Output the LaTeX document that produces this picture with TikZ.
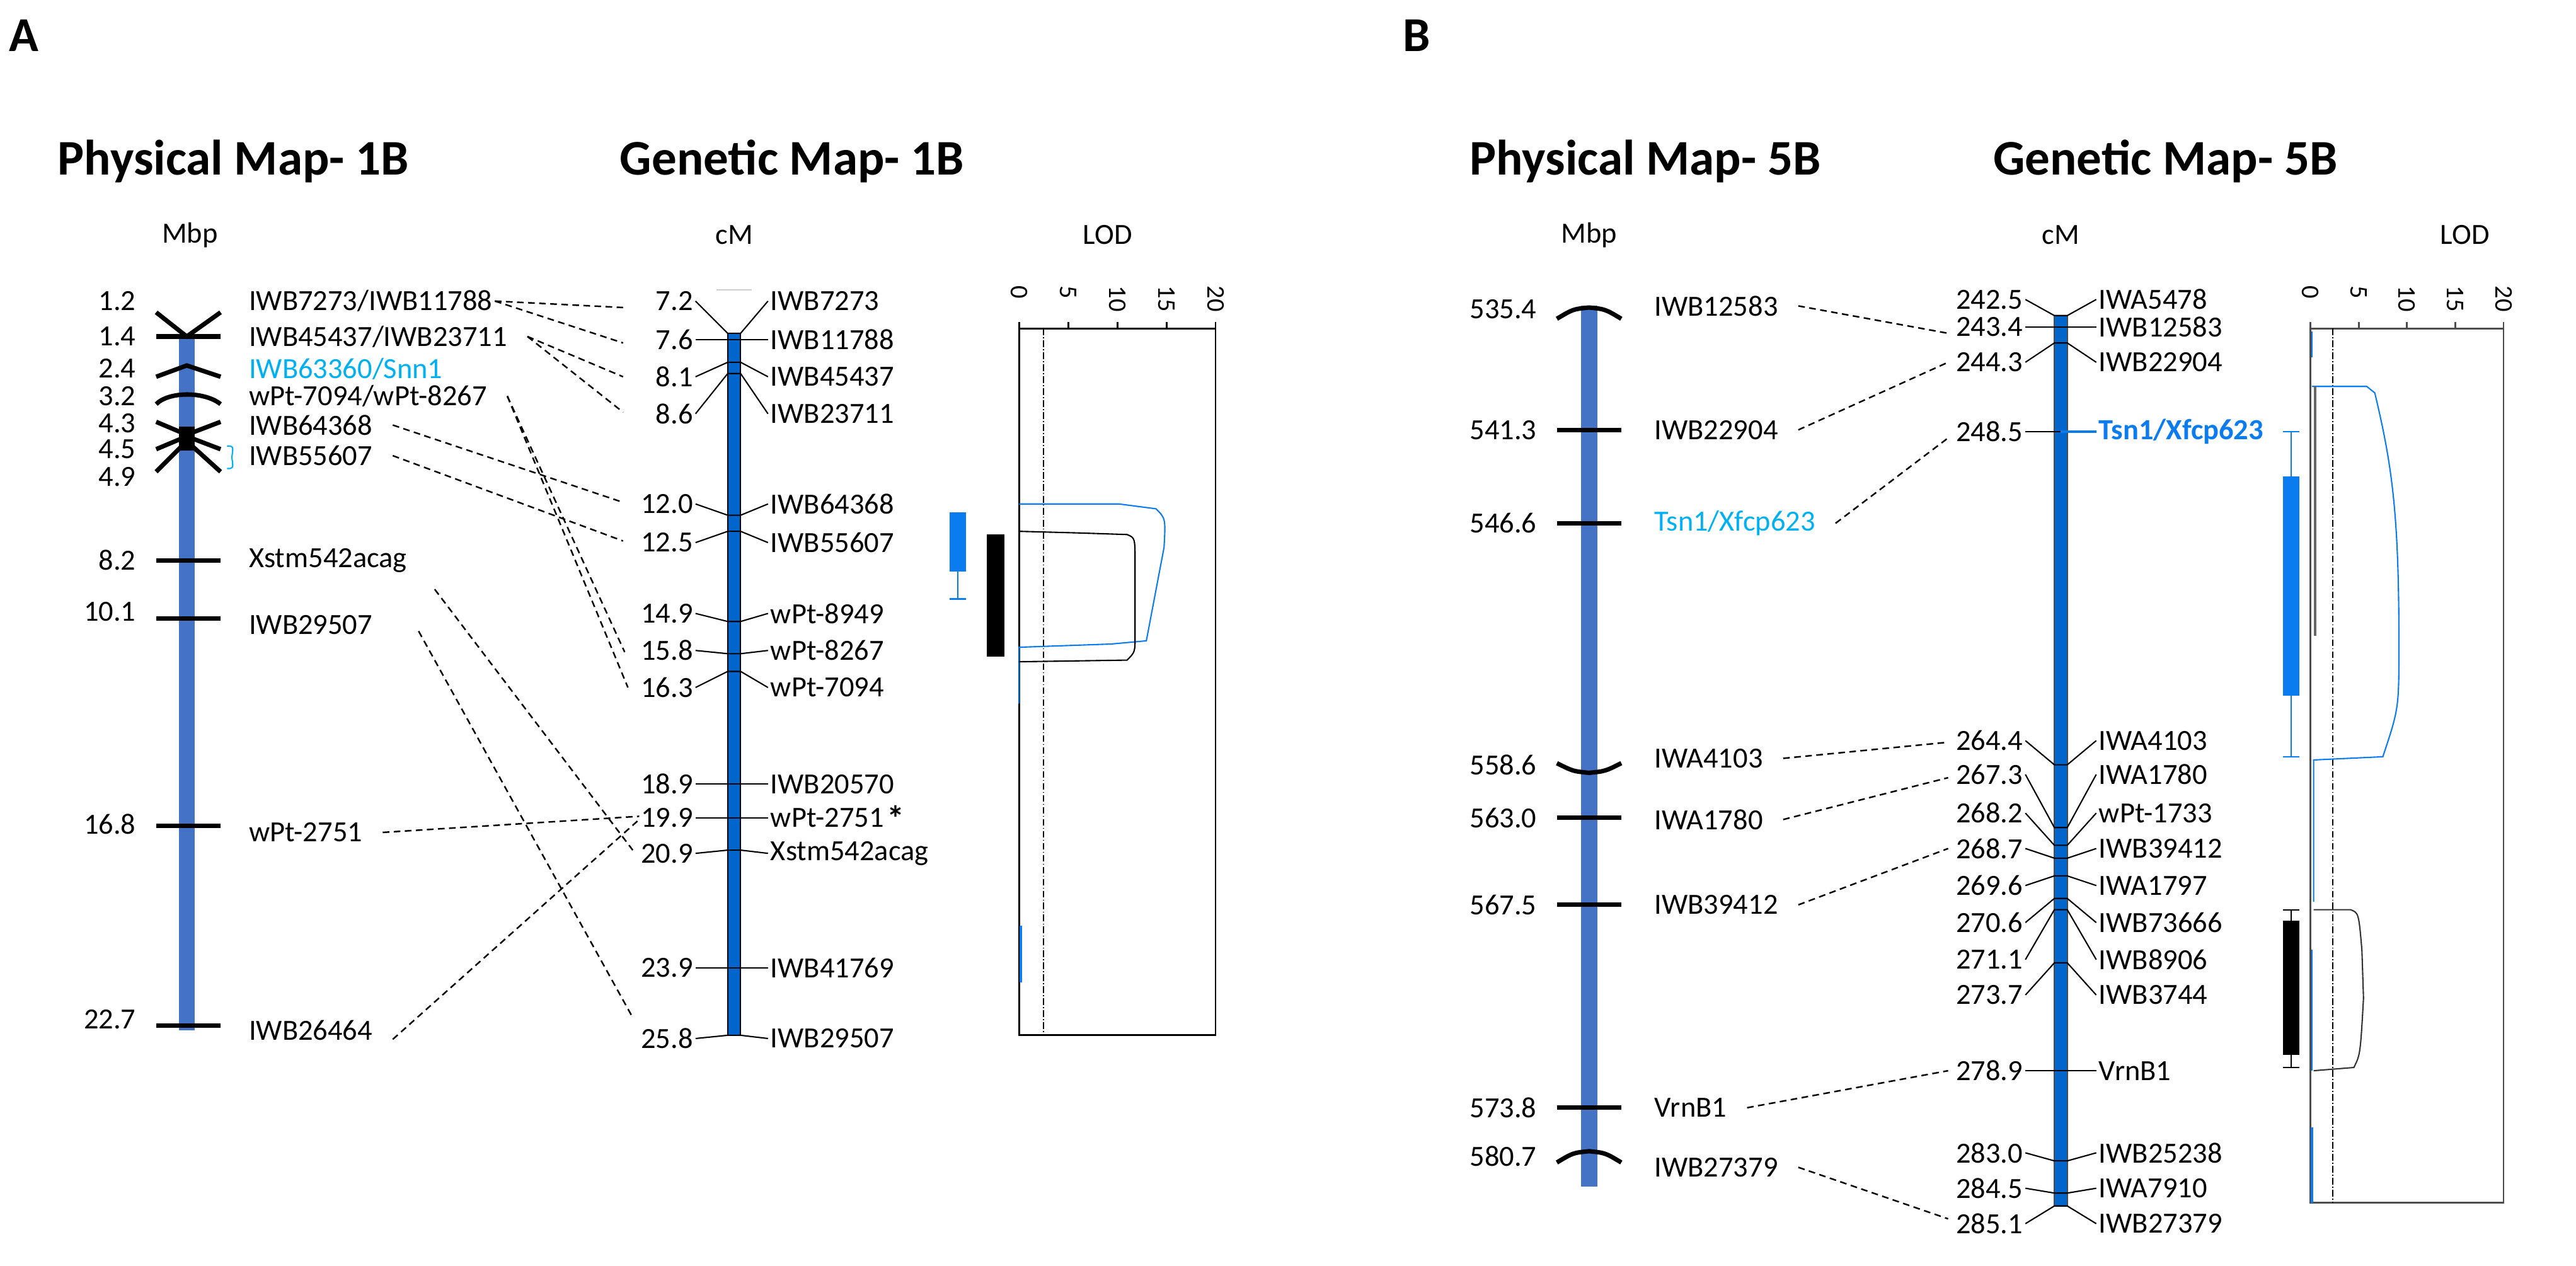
\documentclass[tikz,border=0pt]{standalone}
\usepackage{fontspec}
\setmainfont{Carlito}
\begin{document}
\definecolor{physblue}{HTML}{4472C4}
\definecolor{genblue}{HTML}{0066CC}
\definecolor{hiblue}{HTML}{00B0F0}
\definecolor{qblue}{HTML}{0A7CF0}
\begin{tikzpicture}[x=0.02555cm,y=-0.02555cm,
  lab/.style={font=\fontsize{13.2}{15}\selectfont,inner sep=1pt},
  num/.style={lab,anchor=east},
  nam/.style={lab,anchor=west},
  ttl/.style={font=\fontsize{22.5}{26}\selectfont\bfseries},
  pan/.style={font=\fontsize{22}{24}\selectfont\bfseries},
  dsh/.style={densely dashed,line width=0.7pt},
  mk/.style={line width=2pt,black},
  tk/.style={line width=0.6pt},
  axl/.style={font=\fontsize{11.5}{12}\selectfont,rotate=-90,anchor=west,inner sep=1pt}]
\useasboundingbox (0,0) rectangle (1600,786);
\node[pan] (pA) at (15,22) {A};
\node[pan] (pB) at (880,22) {B};
\node[ttl] (t1) at (145,100) {Physical Map- 1B};
\node[ttl] (t2) at (492,100) {Genetic Map- 1B};
\node[ttl] (t3) at (1022,100) {Physical Map- 5B};
\node[ttl] (t4) at (1345,100) {Genetic Map- 5B};
\node[lab] (u1) at (118,146) {Mbp};
\node[lab] (u2) at (456,146) {cM};
\node[lab] (u3) at (688,146) {LOD};
\node[lab] (u4) at (987,146) {Mbp};
\node[lab] (u5) at (1280,146) {cM};
\node[lab] (u6) at (1531,146) {LOD};

% ---------- Physical 1B ----------
\fill[physblue] (111,208) rectangle (121,640);
\draw[mk] (97,194)--(116,209)--(137,194);
\draw[mk] (97,209)--(137,209);
\draw[mk] (97,234)--(116,227)--(137,234);
\draw[mk] (97,251) .. controls (105,243) and (127,243) .. (137,251);
\draw[mk] (97,262)--(116,270)--(137,262);
\draw[mk] (97,279)--(116,271)--(137,279);
\draw[mk] (97,293)--(116,274)--(137,293);
\fill (111,265) rectangle (121,280);
\draw[hiblue,line width=0.6pt] (141,277) .. controls (145,277) .. (144,284) .. controls (145,291) .. (141,291);
\foreach \y in {348,384,513,637} \draw[mk] (97,\y)--(137,\y);
\foreach \v/\y in {1.2/187,1.4/209,2.4/229,3.2/246,4.3/263,4.5/279,4.9/296,8.2/348,10.1/380,16.8/512,22.7/633}
  \node[num] (pa\v) at (86,\y) {\v};
\node[nam] (a1) at (153,187) {IWB7273/IWB11788};
\node[nam] (a2) at (153,209) {IWB45437/IWB23711};
\node[nam,text=hiblue] (a3) at (153,229) {IWB63360/Snn1};
\node[nam] (a4) at (153,246) {wPt-7094/wPt-8267};
\node[nam] (a5) at (153,264) {IWB64368};
\node[nam] (a6) at (153,283) {IWB55607};
\node[nam] (a7) at (153,348) {Xstm542acag};
\node[nam] (a8) at (153,388) {IWB29507};
\node[nam] (a9) at (153,517) {wPt-2751};
\node[nam] (a10) at (153,640) {IWB26464};

% ---------- Genetic 1B ----------
\draw[line width=0.4pt,gray!40] (445,180)--(467,180);
\filldraw[fill=genblue,draw=black,line width=0.6pt] (452,207) rectangle (460,643);
\foreach \v/\yl/\yt/\nm/\i in {7.2/187/207/IWB7273/1,7.6/211/211/IWB11788/2,8.1/234/225/IWB45437/3,8.6/257/232/IWB23711/4,
 12.0/313/320/IWB64368/5,12.5/337/330/IWB55607/6,14.9/381/386/wPt-8949/7,15.8/404/406/wPt-8267/8,16.3/427/417/wPt-7094/9,
 18.9/487/487/IWB20570/10,19.9/508/508/wPt-2751/11,20.9/530/528/Xstm542acag/12,23.9/601/601/IWB41769/13,25.8/645/643/IWB29507/14}{
  \node[num] (g\i) at (432,\yl) {\v};
  \node[nam] (h\i) at (477,\yl) {\nm};
  \draw[tk] (g\i.east) -- (452,\yt) -- (460,\yt) -- (h\i.west);
}
\node[font=\fontsize{16}{16}\selectfont\bfseries,anchor=west,inner sep=0pt] (ast) at (h11.east) {*};

% connectors 1B
\coordinate (c1) at (387,191); \coordinate (c2) at (387,213);
\coordinate (c3) at (387,234); \coordinate (c4) at (387,256);
\draw[dsh] (a1.east) -- (c1); \draw[dsh] (a1.east) -- (c2);
\draw[dsh] ([xshift=8]a2.east) -- (c3); \draw[dsh] ([xshift=8]a2.east) -- (c4);
\draw[dsh] ([xshift=8]a4.east) -- (388,405); \draw[dsh] ([xshift=8]a4.east) -- (390,427);
\draw[dsh] ([xshift=8]a5.east) -- (387,312);
\draw[dsh] ([xshift=8]a6.east) -- (387,336);
\draw[dsh] (270,366) -- (393,528);
\draw[dsh] (260,392) -- (393,632);
\draw[dsh] ([xshift=8]a9.east) -- (397,507);
\draw[dsh] ([xshift=8,yshift=-4]a10.east) -- (397,509);

% LOD 1B
\draw[line width=0.8pt] (633,204) rectangle (755,643);
\foreach \l [count=\k from 0] in {0,5,10,15,20}{
  \draw[line width=0.8pt] ({633+\k*30.5},204)--({633+\k*30.5},200);
  \node[axl] (lx\k) at ({633+\k*30.5},176) {\l};}
\draw[densely dashdotted,line width=0.6pt] (648,204)--(648,643);
\draw[qblue,line width=0.6pt] (633,313)--(695,313)--(718,316) .. controls (724,322) .. (723,340) -- (712,398) -- (690,400) -- (633,402) -- (633,437);
\draw[black,line width=0.6pt] (633,330)--(670,331)--(700,332) .. controls (705,334) .. (705,350) -- (705,395) .. controls (705,405) .. (700,410) -- (633,411);
\draw[qblue,line width=1pt] (634,575)--(634,610);
\fill[qblue] (590,318) rectangle (600,355);
\draw[qblue,line width=0.6pt] (595,355)--(595,372) (590,372)--(600,372);
\fill (613,332) rectangle (624,408);

% ---------- Physical 5B ----------
\fill[physblue] (982,190) rectangle (992,737);
\draw[mk] (967,198) .. controls (977,192) .. (987,191) .. controls (997,192) .. (1007,198);
\draw[mk] (967,474) .. controls (977,479) .. (987,480) .. controls (997,479) .. (1007,474);
\draw[mk] (967,722) .. controls (977,716) .. (987,715) .. controls (997,716) .. (1007,722);
\foreach \y in {267,325,508,562,688} \draw[mk] (967,\y)--(1007,\y);
\foreach \v/\y in {535.4/192,541.3/267,546.6/325,558.6/475,563.0/508,567.5/562,573.8/688,580.7/718}
  \node[num] (pb\v) at (956,\y) {\v};
\node[nam] (b1) at (1026,190) {IWB12583};
\node[nam] (b2) at (1026,267) {IWB22904};
\node[nam,text=hiblue] (b3) at (1026,325) {Tsn1/Xfcp623};
\node[nam] (b4) at (1026,471) {IWA4103};
\node[nam] (b5) at (1026,509) {IWA1780};
\node[nam] (b6) at (1026,562) {IWB39412};
\node[nam] (b7) at (1026,688) {VrnB1};
\node[nam] (b8) at (1026,725) {IWB27379};

% ---------- Genetic 5B ----------
\filldraw[fill=genblue,draw=black!70,line width=0.6pt] (1276,196) rectangle (1284,749);
\foreach \v/\yl/\yt/\nm/\i in {242.5/186/196/IWA5478/1,243.4/203/203/IWB12583/2,244.3/225/213/IWB22904/3,
 264.4/460/475/IWA4103/5,267.3/481/514/IWA1780/6,268.2/505/525/wPt-1733/7,268.7/527/533/IWB39412/8,
 269.6/550/544/IWA1797/9,270.6/573/558/IWB73666/10,271.1/596/565/IWB8906/11,273.7/618/598/IWB3744/12,
 278.9/665/665/VrnB1/13,283.0/716/721/IWB25238/14,284.5/738/741/IWA7910/15,285.1/760/749/IWB27379/16}{
  \node[num] (k\i) at (1258,\yl) {\v};
  \node[nam] (m\i) at (1302,\yl) {\nm};
  \draw[tk] (k\i.east) -- (1276,\yt) -- (1284,\yt) -- (m\i.west);
}
\node[num] (k4) at (1258,268) {248.5};
\node[nam,text=qblue,font=\fontsize{13.2}{15}\selectfont\bfseries] (m4) at (1302,268) {Tsn1/Xfcp623};
\draw[tk] (k4.east) -- (1280,268);
\draw[qblue,line width=1pt] (1280,268) -- (m4.west);

% connectors 5B
\draw[dsh] ([xshift=8]b1.east) -- (1210,207);
\draw[dsh] ([xshift=8]b2.east) -- (1210,225);
\draw[dsh] ([xshift=8]b3.east) -- (1210,272);
\draw[dsh] ([xshift=8]b4.east) -- (1210,461);
\draw[dsh] ([xshift=8]b5.east) -- (1210,483);
\draw[dsh] ([xshift=8]b6.east) -- (1210,527);
\draw[dsh] ([xshift=8]b7.east) -- (1210,665);
\draw[dsh] ([xshift=8]b8.east) -- (1210,757);

% LOD 5B
\draw[line width=0.8pt,black!70] (1435,204) -- (1555,204) -- (1555,747) -- (1435,747) -- cycle;
\foreach \l [count=\k from 0] in {0,5,10,15,20}{
  \draw[line width=0.8pt,black!70] ({1435+\k*30},204)--({1435+\k*30},200);
  \node[axl] (ly\k) at ({1435+\k*30},176) {\l};}
\draw[densely dashdotted,line width=0.6pt] (1449,204)--(1449,747);
\draw[qblue,line width=0.6pt] (1436,206)--(1436,222);
\draw[qblue,line width=0.6pt] (1436,240)--(1470,240)--(1475,244) .. controls (1486,290) and (1490,320) .. (1490,400) .. controls (1490,440) .. (1480,470) -- (1437,472) -- (1437,560);
\draw[black!60,line width=1.2pt] (1438,240)--(1438,395);
\draw[qblue,line width=0.6pt] (1436,590)--(1436,665);
\draw[qblue,line width=1pt] (1436,700)--(1436,747);
\draw[black!80,line width=0.6pt] (1437,565)--(1460,565) .. controls (1465,567) .. (1467,590) -- (1468,620) .. controls (1466,655) .. (1462,663) -- (1437,665);
\draw[qblue,line width=0.6pt] (1423,268)--(1423,470) (1418,268)--(1428,268) (1418,470)--(1428,470);
\fill[qblue] (1418,296) rectangle (1428,432);
\draw[black,line width=0.6pt] (1423,565)--(1423,663) (1418,565)--(1428,565) (1418,663)--(1428,663);
\fill (1418,572) rectangle (1428,655);
\end{tikzpicture}
\end{document}
